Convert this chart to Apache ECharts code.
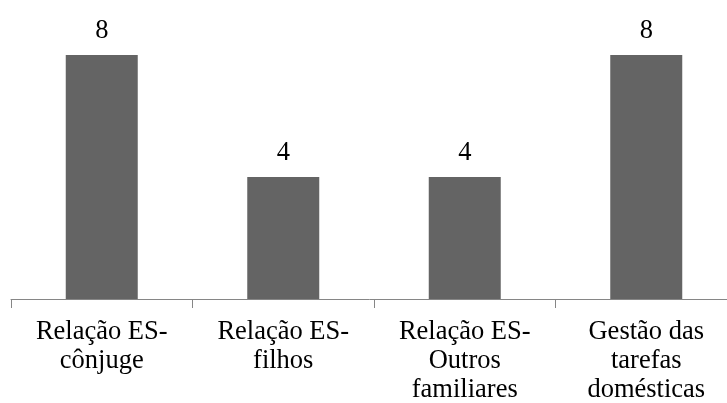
<!DOCTYPE html>
<html>
<head>
<meta charset="utf-8">
<script src="https://cdn.jsdelivr.net/npm/echarts@6/dist/echarts.min.js"></script>
<style>html,body{margin:0;padding:0;background:#fff}#c{width:727px;height:403px}</style>
</head>
<body>
<div id="c"></div>
<script>
var categories = ["Relação ES-\ncônjuge", "Relação ES-\nfilhos", "Relação ES-\nOutros\nfamiliares", "Gestão das\ntarefas\ndomésticas"];
var values = [8, 4, 4, 8];

var FONT = "'Liberation Serif', 'Times New Roman', serif";
var chart = echarts.init(document.getElementById('c'));
chart.setOption({
  animation: false,
  grid: {left: 11, right: -10, top: 55, bottom: 104, outerBoundsMode: 'none', containLabel: false},
  xAxis: {
    type: 'category',
    data: categories,
    axisLine: {lineStyle: {color: '#868686', width: 1}},
    axisTick: {show: true, length: 9, lineStyle: {color: '#868686'}},
    axisLabel: {
      interval: 0, margin: 19, color: '#000',
      fontFamily: FONT, fontSize: 26.5, lineHeight: 29
    }
  },
  yAxis: {type: 'value', min: 0, max: 8, show: false, splitLine: {show: false}},
  series: [{
    type: 'bar',
    data: values,
    barWidth: 72,
    itemStyle: {color: '#646464'},
    label: {
      show: true, position: 'top', distance: 10,
      color: '#000', fontFamily: FONT, fontSize: 26.5
    }
  }]
});
</script>
</body>
</html>
